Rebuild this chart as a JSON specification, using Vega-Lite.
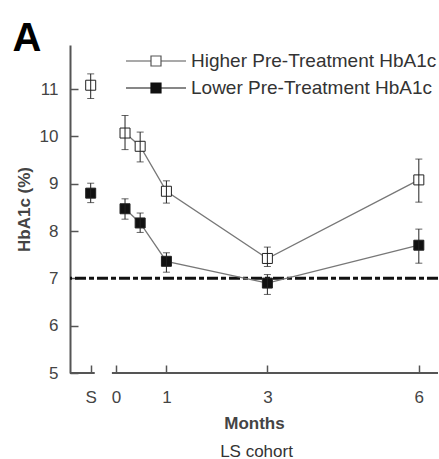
{
  "$schema": "https://vega.github.io/schema/vega-lite/v6.json",
  "width": 368,
  "height": 328,
  "autosize": {"type": "none"},
  "padding": {"left": 70, "top": 45, "right": 1, "bottom": 86},
  "background": "white",
  "config": {
    "view": {"stroke": null},
    "font": "Liberation Sans",
    "axis": {"labelFont": "Liberation Sans", "titleFont": "Liberation Sans", "labelColor": "#444", "titleColor": "#444", "labelFontSize": 17, "titleFontSize": 17, "grid": false, "tickColor": "#555", "tickWidth": 1.5, "tickSize": -8, "domainColor": "#555", "domainWidth": 2}
  },
  "datasets": {
    "pts": [
      {"g": "Higher Pre-Treatment HbA1c", "m": -0.5, "v": 11.08, "lo": 10.8, "hi": 11.32},
      {"g": "Higher Pre-Treatment HbA1c", "m": 0.18, "v": 10.07, "lo": 9.72, "hi": 10.44},
      {"g": "Higher Pre-Treatment HbA1c", "m": 0.48, "v": 9.79, "lo": 9.46, "hi": 10.09},
      {"g": "Higher Pre-Treatment HbA1c", "m": 1, "v": 8.84, "lo": 8.59, "hi": 9.06},
      {"g": "Higher Pre-Treatment HbA1c", "m": 3, "v": 7.42, "lo": 7.25, "hi": 7.66},
      {"g": "Higher Pre-Treatment HbA1c", "m": 6, "v": 9.08, "lo": 8.61, "hi": 9.52},
      {"g": "Lower Pre-Treatment HbA1c", "m": -0.5, "v": 8.8, "lo": 8.6, "hi": 9.01},
      {"g": "Lower Pre-Treatment HbA1c", "m": 0.18, "v": 8.47, "lo": 8.25, "hi": 8.68},
      {"g": "Lower Pre-Treatment HbA1c", "m": 0.48, "v": 8.17, "lo": 7.97, "hi": 8.38},
      {"g": "Lower Pre-Treatment HbA1c", "m": 1, "v": 7.36, "lo": 7.13, "hi": 7.54},
      {"g": "Lower Pre-Treatment HbA1c", "m": 3, "v": 6.9, "lo": 6.66, "hi": 7.08},
      {"g": "Lower Pre-Treatment HbA1c", "m": 6, "v": 7.7, "lo": 7.32, "hi": 8.04}
    ],
    "segs": [
      {"a": -0.91, "b": -0.42},
      {"a": -0.08, "b": 6.38}
    ]
  },
  "resolve": {"axis": {"x": "independent"}},
  "layer": [
    {
      "data": {"name": "segs"},
      "mark": {"type": "rule", "color": "#555", "strokeWidth": 2},
      "encoding": {
        "x": {"field": "a", "type": "quantitative", "scale": {"domain": [-0.91, 6.38], "nice": false, "zero": false},
          "axis": {"values": [-0.5, 0, 1, 3, 6], "labelExpr": "datum.value == -0.5 ? 'S' : datum.label", "domain": false, "title": "Months", "titleFontWeight": "bold", "labelPadding": 24, "titlePadding": 10, "orient": "bottom"}},
        "x2": {"field": "b"},
        "y": {"datum": 5, "type": "quantitative", "scale": {"domain": [5, 11.93], "nice": false, "zero": false},
          "axis": {"values": [5, 6, 7, 8, 9, 10, 11], "title": "HbA1c (%)", "titleFontWeight": "bold", "labelPadding": 20, "titlePadding": 6}}
      }
    },
    {
      "data": {"values": [{}]},
      "mark": {"type": "rule", "color": "#111", "strokeWidth": 3, "strokeDash": [11, 3, 5, 3]},
      "encoding": {"y": {"datum": 7, "type": "quantitative"}}
    },
    {
      "data": {"name": "pts"},
      "transform": [{"filter": "datum.m >= 0"}],
      "mark": {"type": "line", "color": "#777", "strokeWidth": 1.3},
      "encoding": {
        "x": {"field": "m", "type": "quantitative", "axis": {"orient": "bottom", "labels": false, "ticks": false, "domain": false, "title": "LS cohort", "titleFontWeight": "normal", "titleX": 186, "titleY": 70, "titleBaseline": "top", "titleAlign": "center", "titleColor": "#333"}},
        "y": {"field": "v", "type": "quantitative"},
        "detail": {"field": "g"}
      }
    },
    {
      "data": {"name": "pts"},
      "mark": {"type": "point", "shape": "square", "size": 100, "filled": true, "stroke": "#222", "strokeWidth": 1, "opacity": 1},
      "encoding": {
        "x": {"field": "m", "type": "quantitative", "axis": {"orient": "bottom", "labels": false, "ticks": false, "domain": false, "title": "A", "titleFontSize": 40, "titleFontWeight": "bold", "titleColor": "#000", "titleX": -58, "titleY": -323, "titleBaseline": "alphabetic", "titleAlign": "left"}},
        "y": {"field": "v", "type": "quantitative"},
        "fill": {"field": "g", "type": "nominal", "scale": {"domain": ["Higher Pre-Treatment HbA1c", "Lower Pre-Treatment HbA1c"], "range": ["#ffffff", "#111111"]},
          "legend": {"title": null, "orient": "none", "legendX": 75, "legendY": 5, "padding": 0, "symbolType": "M-3,0H-0.5M0.5,0H3M-0.5,-0.5H0.5V0.5H-0.5Z", "symbolSize": 400, "symbolStrokeWidth": 1.2, "symbolStrokeColor": "#444", "labelOffset": 24, "labelFontSize": 19, "labelColor": "#333", "labelFont": "Liberation Sans", "labelLimit": 0, "rowPadding": 6,
            "symbolOpacity": 1,
            "encode": {"symbols": {"update": {"stroke": {"signal": "datum.value === 'Lower Pre-Treatment HbA1c' ? '#111' : '#555'"}}}}}}
      }
    },
    {
      "data": {"name": "pts"},
      "mark": {"type": "rule", "color": "#222", "strokeWidth": 1},
      "encoding": {
        "x": {"field": "m", "type": "quantitative", "axis": null},
        "y": {"field": "lo", "type": "quantitative"},
        "y2": {"field": "hi"}
      }
    },
    {
      "data": {"name": "pts"},
      "mark": {"type": "tick", "color": "#222", "thickness": 1, "size": 7, "orient": "horizontal"},
      "encoding": {
        "x": {"field": "m", "type": "quantitative", "axis": null},
        "y": {"field": "lo", "type": "quantitative"}
      }
    },
    {
      "data": {"name": "pts"},
      "mark": {"type": "tick", "color": "#222", "thickness": 1, "size": 7, "orient": "horizontal"},
      "encoding": {
        "x": {"field": "m", "type": "quantitative", "axis": null},
        "y": {"field": "hi", "type": "quantitative"}
      }
    }
  ]
}
